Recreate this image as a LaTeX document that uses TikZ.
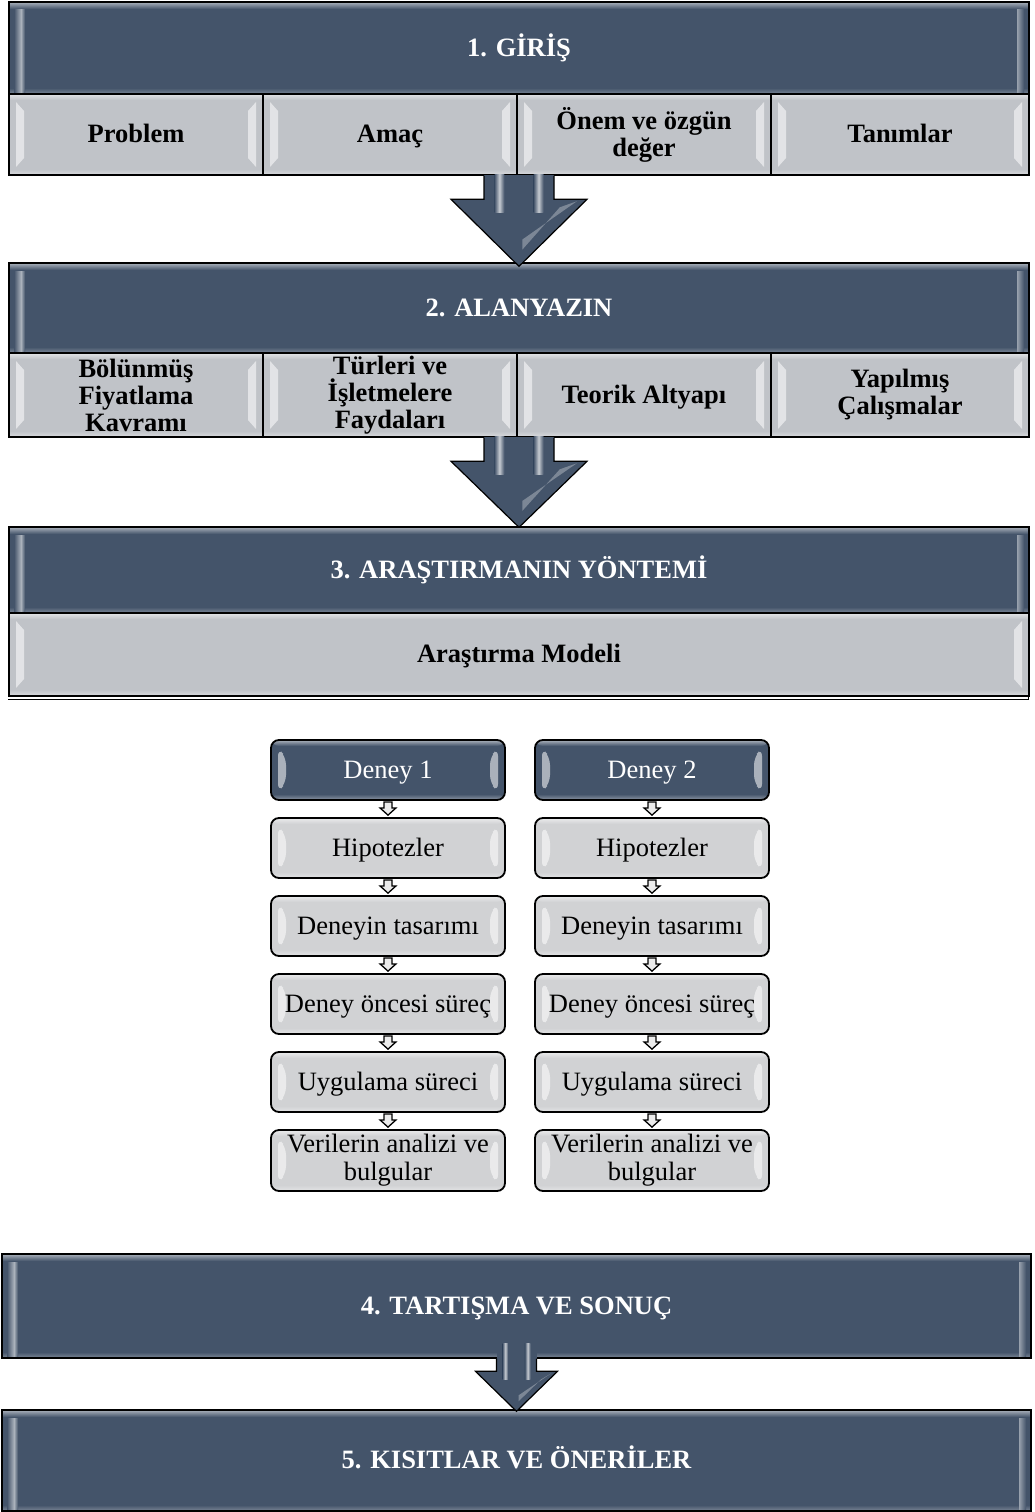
\documentclass[tikz,border=0pt]{standalone}
\usepackage{fontspec}
\setmainfont{Liberation Serif}
\usetikzlibrary{calc}

\definecolor{slate}{HTML}{44546A}
\definecolor{panel}{HTML}{C0C3C8}
\definecolor{stepfill}{HTML}{D1D2D4}

% keeps single-line labels on a common baseline
\newcommand\sv{\vphantom{Ágy}}

\tikzset{
  % raised look: light bands along the edges and glossy side strips
  bevel/.style={path picture={
    \path (path picture bounding box.north west) coordinate (pNW)
          (path picture bounding box.south east) coordinate (pSE);
    \shade[top color=white!55!#1, bottom color=#1]
      (pNW) rectangle ($(pNW-|pSE)+(0pt,-6pt)$);
    \shade[top color=#1, bottom color=white!40!#1]
      ($(pNW|-pSE)+(0pt,6pt)$) rectangle (pSE);
    \fill[white, opacity=.55]
      ($(pNW)+(7pt,-8pt)$) -- ($(pNW)+(15pt,-17pt)$) --
      ($(pNW|-pSE)+(15pt,17pt)$) -- ($(pNW|-pSE)+(7pt,8pt)$) -- cycle;
    \fill[white, opacity=.55]
      ($(pNW-|pSE)+(-7pt,-8pt)$) -- ($(pNW-|pSE)+(-15pt,-17pt)$) --
      ($(pSE)+(-15pt,17pt)$) -- ($(pSE)+(-7pt,8pt)$) -- cycle;
  }},
  hdrbevel/.style={path picture={
    \path (path picture bounding box.north west) coordinate (pNW)
          (path picture bounding box.south east) coordinate (pSE);
    \shade[top color=white!55!slate, bottom color=slate]
      (pNW) rectangle ($(pNW-|pSE)+(0pt,-7pt)$);
    \shade[top color=slate, bottom color=white!30!slate]
      ($(pNW|-pSE)+(0pt,6pt)$) rectangle (pSE);
    \shade[left color=slate, right color=white!55!slate]
      ($(pNW)+(5pt,-8pt)$) rectangle ($(pNW|-pSE)+(12pt,2pt)$);
    \shade[left color=white!55!slate, right color=slate]
      ($(pNW)+(12pt,-8pt)$) rectangle ($(pNW|-pSE)+(16pt,2pt)$);
    \shade[right color=slate, left color=white!45!slate]
      ($(pNW-|pSE)+(-12pt,-8pt)$) rectangle ($(pSE)+(-5pt,2pt)$);
  }},
  bigfont/.style={font=\fontsize{26.5}{27}\selectfont\bfseries},
  hdr/.style={draw=black, line width=1.4pt, fill=slate, text=white,
    bigfont, align=center, inner sep=0pt, hdrbevel},
  sub/.style={draw=black, line width=1.4pt, fill=panel, text=black,
    bigfont, align=center, inner sep=0pt, bevel=panel},
  stepbox/.style={draw=black, line width=1.8pt, rounded corners=8pt,
    fill=stepfill, text=black, font=\fontsize{26.5}{28}\selectfont,
    align=center, inner sep=0pt, bevel=stepfill},
  deneybox/.style={stepbox, fill=slate, text=white, bevel=slate},
  arrowbody/.style={draw=black, line width=1.2pt, fill=slate, line join=miter},
  stripe/.style={left color=slate, right color=slate, middle color=white!70!slate},
  tinyarrow/.style={draw=black, line width=1.3pt, fill=white!85!gray, line join=miter},
}

% node with given corners (pixels, y down)
\newcommand\boxat[7]{%
  \node[#1, minimum width={#5-#3}, minimum height={#6-#4}]
    (#2) at ({(#3+#5)/2},{(#4+#6)/2}) {#7};}

% block arrow: starts at the bottom of #1, points at the centre top of #2;
% shaft half width, head half width, head length, overshoot,
% and how far the shaft reaches up over the box above (no outline there)
\newcommand\blockarrow[7]{%
  \fill[slate] let \p1=(#1.south), \p2=(#2.north) in
    ({\x2-#3},{\y1+#7}) rectangle ({\x2+#3},{\y1-1pt});
  \draw[arrowbody] let \p1=(#1.south), \p2=(#2.north) in
    ({\x2-#3},\y1) -- ({\x2-#3},{\y2-#6+#5}) -- ({\x2-#4},{\y2-#6+#5}) --
    (\x2,{\y2-#6}) -- ({\x2+#4},{\y2-#6+#5}) -- ({\x2+#3},{\y2-#6+#5}) --
    ({\x2+#3},\y1);
  \shade[stripe] let \p1=(#1.south), \p2=(#2.north) in
    ({\x2-0.7*#3},{\y1+#7}) rectangle ({\x2-0.42*#3},{\y2-#6+0.8*#5});
  \shade[stripe] let \p1=(#1.south), \p2=(#2.north) in
    ({\x2+0.42*#3},{\y1+#7}) rectangle ({\x2+0.7*#3},{\y2-#6+0.8*#5});
  \fill[white, opacity=.3] let \p1=(#1.south), \p2=(#2.north) in
    ({\x2+0.85*#4},{\y2-#6+#5-2pt}) -- ({\x2+0.6*#4},{\y2-#6+#5-8pt}) --
    ({\x2+0.05*#4},{\y2-#6+0.25*#5}) -- ({\x2+0.05*#4},{\y2-#6+0.4*#5}) -- cycle;}

% small outline arrow between two step boxes
\newcommand\smallarrow[2]{%
  \draw[tinyarrow] let \p1=(#1.south), \p2=(#2.north) in
    ({\x1-4pt},{\y1-1pt}) -- ({\x1-4pt},{\y1-7pt}) -- ({\x1-8pt},{\y1-7pt}) --
    (\x1,{\y2+2pt}) -- ({\x1+8pt},{\y1-7pt}) -- ({\x1+4pt},{\y1-7pt}) --
    ({\x1+4pt},{\y1-1pt}) -- cycle;}

\begin{document}
\begin{tikzpicture}[x=1pt, y=-1pt]
  \useasboundingbox[fill=white] (0,0) rectangle (1035,1512);

  % section 1
  \boxat{hdr}{h1}{9}{2}{1029}{94}{1. GİRİŞ\sv}
  \boxat{sub}{s11}{9}{94}{263}{175}{Problem\sv}
  \boxat{sub}{s12}{263}{94}{517}{175}{Amaç\sv}
  \boxat{sub}{s13}{517}{94}{771}{175}{Önem ve özgün\\değer}
  \boxat{sub}{s14}{771}{94}{1029}{175}{Tanımlar\sv}

  % section 2
  \boxat{hdr}{h2}{9}{263}{1029}{353}{2. ALANYAZIN\sv}
  \boxat{sub}{s21}{9}{353}{263}{437}{Bölünmüş\\Fiyatlama\\Kavramı}
  \boxat{sub}{s22}{263}{353}{517}{437}{Türleri ve\\İşletmelere\\Faydaları}
  \boxat{sub}{s23}{517}{353}{771}{437}{Teorik Altyapı\sv}
  \boxat{sub}{s24}{771}{353}{1029}{437}{Yapılmış\\Çalışmalar}

  % section 3
  \boxat{hdr}{h3}{9}{527}{1029}{613}{3. ARAŞTIRMANIN YÖNTEMİ\sv}
  \boxat{sub}{s31}{9}{613}{1029}{696}{Araştırma Modeli\sv}
  \draw[line width=1pt] (s31.south west) ++(0pt,-3pt) -- ++(1020pt,0pt) -- ++(0pt,87pt);

  % experiment columns
  \boxat{deneybox}{a0}{271}{740}{505}{800}{Deney 1\sv}
  \boxat{stepbox}{a1}{271}{818}{505}{878}{Hipotezler\sv}
  \boxat{stepbox}{a2}{271}{896}{505}{956}{Deneyin tasarımı\sv}
  \boxat{stepbox}{a3}{271}{974}{505}{1034}{Deney öncesi süreç\sv}
  \boxat{stepbox}{a4}{271}{1052}{505}{1112}{Uygulama süreci\sv}
  \boxat{stepbox}{a5}{271}{1130}{505}{1191}{Verilerin analizi ve\\bulgular}

  \boxat{deneybox}{b0}{535}{740}{769}{800}{Deney 2\sv}
  \boxat{stepbox}{b1}{535}{818}{769}{878}{Hipotezler\sv}
  \boxat{stepbox}{b2}{535}{896}{769}{956}{Deneyin tasarımı\sv}
  \boxat{stepbox}{b3}{535}{974}{769}{1034}{Deney öncesi süreç\sv}
  \boxat{stepbox}{b4}{535}{1052}{769}{1112}{Uygulama süreci\sv}
  \boxat{stepbox}{b5}{535}{1130}{769}{1191}{Verilerin analizi ve\\bulgular}

  \smallarrow{a0}{a1}\smallarrow{a1}{a2}\smallarrow{a2}{a3}
  \smallarrow{a3}{a4}\smallarrow{a4}{a5}
  \smallarrow{b0}{b1}\smallarrow{b1}{b2}\smallarrow{b2}{b3}
  \smallarrow{b3}{b4}\smallarrow{b4}{b5}

  % sections 4 and 5
  \boxat{hdr}{h4}{2}{1254}{1031}{1358}{4. TARTIŞMA VE SONUÇ\sv}
  \boxat{hdr}{h5}{2}{1410}{1031}{1511}{5. KISITLAR VE ÖNERİLER\sv}

  % flow arrows between sections
  \blockarrow{s11}{h2}{35pt}{68pt}{67pt}{4pt}{1pt}
  \blockarrow{s21}{h3}{35pt}{68pt}{66pt}{1pt}{1pt}
  \blockarrow{h4}{h5}{20pt}{41pt}{40pt}{2pt}{15pt}
\end{tikzpicture}
\end{document}
